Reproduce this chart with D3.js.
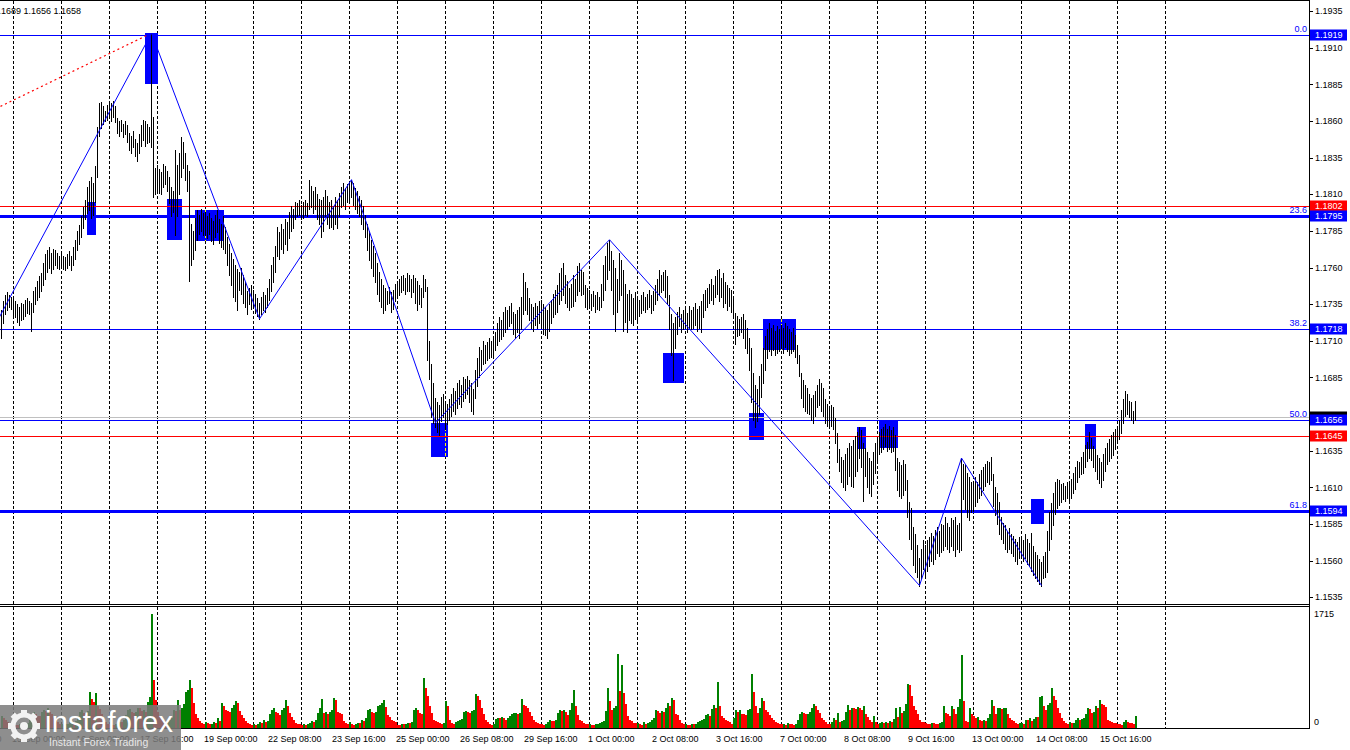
<!DOCTYPE html>
<html><head><meta charset="utf-8">
<script src="https://cdn.jsdelivr.net/npm/d3@7"></script>
<style>body{margin:0;background:#fff}svg{display:block}text{font-family:"Liberation Sans",Arial,sans-serif}</style>
</head><body><svg id="c" width="1350" height="750"></svg>
<script>
// EURUSD H1 — prices stored as pips above 1.1000 (price = 1.1 + v/10000)
const highs = [
731,737,741,743,741,740,
739,737,735,733,736,735,738,739,737,736,744,747,751,754,756,763,769,772,774,770,773,772,770,768,
770,768,767,769,771,768,774,779,785,789,795,801,806,815,819,822,818,829,856,872,873,870,867,871,
874,872,874,870,862,860,861,858,860,857,852,850,853,848,845,851,857,861,860,858,856,920,863,828,
830,827,825,831,829,826,822,815,812,840,830,838,849,846,838,830,826,790,785,794,799,796,800,797,
798,795,797,794,792,796,799,793,790,795,788,781,776,770,766,762,759,757,760,755,750,744,746,748,
745,742,739,736,740,743,741,746,752,762,767,775,788,784,790,786,793,791,798,802,800,805,804,806,
803,805,806,804,820,816,812,815,810,807,806,808,813,809,805,806,802,808,806,811,815,818,814,817,
818,820,818,814,812,809,806,802,796,790,785,779,775,770,763,757,752,748,746,744,747,743,745,749,
750,752,754,755,753,756,755,752,755,753,751,748,746,755,752,747,710,694,681,671,668,666,672,674,
668,667,670,674,678,676,681,683,680,685,684,686,683,681,677,690,698,706,704,710,707,709,712,710,
712,716,722,726,724,730,733,731,734,736,730,728,731,733,740,756,750,746,739,735,733,736,734,737,
738,735,733,731,735,738,742,745,748,756,760,763,755,751,746,749,755,752,761,763,758,757,748,746,
745,742,744,741,743,740,749,762,768,777,779,771,765,760,752,770,765,758,749,742,745,742,739,743,
740,738,741,743,740,742,745,741,744,748,752,758,755,757,758,754,741,728,722,726,730,733,728,731,
733,729,734,731,733,736,732,734,737,742,745,746,749,752,748,754,758,759,753,756,750,748,746,745,
740,729,727,725,726,728,724,719,712,705,688,680,677,686,694,705,713,718,722,719,721,717,720,718,
721,719,722,720,718,716,719,714,707,700,688,683,680,678,674,671,673,676,680,684,681,678,670,667,
664,666,665,657,647,636,631,629,633,637,640,638,642,645,648,651,649,640,637,634,630,628,634,640,
643,648,650,651,653,650,652,649,651,646,630,627,625,629,626,615,600,596,583,578,571,562,568,574,
571,574,576,579,577,581,583,580,585,584,590,586,583,589,588,590,584,586,630,626,625,620,617,614,
612,617,614,619,622,624,626,628,627,631,619,610,606,600,590,586,584,580,582,578,577,575,573,576,
577,574,578,575,572,579,570,566,564,561,559,563,566,580,593,599,606,614,616,615,612,613,611,614,
613,616,620,624,628,627,631,634,639,641,648,644,638,636,632,630,627,633,637,640,643,646,648,650,
652,656,663,670,676,674,669,668,662,669];
const lows = [
712,722,728,731,733,732,
727,726,723,721,724,725,727,729,728,717,730,735,738,740,744,748,752,757,760,756,759,762,760,759,
760,759,758,760,762,758,762,766,772,776,781,787,793,797,799,794,796,805,822,850,855,858,860,861,
862,860,863,859,852,850,853,849,851,846,840,838,842,836,833,838,843,847,843,845,846,842,808,810,
812,811,810,815,817,812,804,795,798,782,795,810,822,828,820,812,751,762,766,772,779,783,785,782,
782,780,783,778,776,781,784,777,774,773,770,762,755,748,740,737,731,745,742,736,733,728,735,732,
733,729,727,725,728,731,730,733,738,744,750,757,768,766,773,770,776,772,780,785,787,793,795,796,
793,794,796,795,800,801,797,800,793,790,781,785,795,790,787,788,786,790,787,795,801,803,800,805,
806,808,803,800,797,795,790,786,781,772,765,760,754,750,742,737,733,729,731,735,736,730,732,737,
740,741,743,745,742,744,744,740,743,736,731,735,733,740,744,697,684,658,654,651,648,646,655,658,
650,653,656,659,662,660,664,667,665,669,671,674,668,662,660,671,679,685,690,694,695,697,698,699,
700,704,707,710,711,713,716,718,720,722,715,712,716,712,718,728,731,728,724,719,717,721,719,722,
721,715,714,712,717,722,726,728,730,735,738,741,736,733,731,733,734,737,741,744,741,742,733,732,
733,731,734,730,732,731,733,738,745,752,758,745,728,717,730,738,741,717,723,716,724,722,721,725,
724,727,729,731,730,732,733,729,731,735,738,741,743,745,740,735,718,700,683,705,715,720,716,718,
721,716,719,718,719,721,717,719,716,726,731,733,736,738,735,740,742,737,740,733,736,731,734,730,
726,708,713,714,716,712,705,702,690,668,656,651,655,660,672,681,690,698,703,700,704,700,702,703,
705,702,706,703,700,702,703,699,695,686,671,665,662,661,660,656,654,659,665,666,662,659,654,652,
651,652,650,640,627,621,614,610,608,612,618,611,610,618,621,630,624,601,618,610,606,604,612,620,
628,633,634,636,638,635,636,634,635,622,608,604,603,605,608,590,575,568,557,552,549,543,548,554,
550,553,556,560,558,561,565,563,566,567,570,568,566,570,567,563,568,566,567,602,595,590,588,593,
594,597,600,603,605,608,611,614,612,615,597,591,585,578,575,572,568,566,568,565,563,560,558,562,
562,560,562,558,556,553,550,548,546,544,543,548,549,552,567,575,584,592,596,598,600,602,601,603,
601,603,606,609,614,617,619,620,624,628,630,629,624,621,616,613,610,615,621,626,628,630,632,636,
640,643,647,654,659,660,658,656,654,656];
const volumes = [
180,150,110,90,70,50,
60,45,40,50,70,85,60,75,120,210,240,200,180,170,230,260,250,290,240,200,150,110,80,50,
55,40,50,60,80,90,70,100,180,230,260,220,210,250,540,430,380,520,330,280,200,150,90,60,
60,45,40,55,70,90,80,110,190,260,280,240,220,230,300,290,250,270,240,380,460,1715,725,420,
240,180,130,100,80,90,110,150,270,250,420,270,300,350,540,570,715,600,370,200,140,95,70,55,
90,70,55,60,80,70,140,95,370,330,260,245,230,300,345,405,370,245,190,140,100,65,55,45,
50,45,60,85,70,110,90,100,200,265,290,230,215,190,270,300,420,320,215,160,110,75,60,50,
45,55,40,60,65,95,85,110,218,300,430,225,240,210,235,260,440,420,240,215,210,95,70,55,
80,60,45,55,70,65,110,95,140,270,285,240,215,230,330,345,370,420,310,190,160,115,95,80,
45,40,55,50,60,70,65,90,270,294,260,218,200,750,590,470,320,220,120,100,80,70,60,75,
395,330,110,70,60,80,95,120,130,240,245,230,220,250,270,510,480,420,300,200,120,80,60,45,
60,130,150,140,160,150,120,140,180,210,215,225,200,215,436,340,320,300,240,170,110,80,65,50,
50,45,55,90,110,100,95,120,220,265,250,270,240,195,265,370,573,320,195,120,95,70,60,50,
60,45,40,50,55,70,90,95,243,590,395,269,300,320,1105,550,950,520,350,170,117,92,70,66,
70,60,45,80,60,75,90,110,150,270,245,220,250,240,300,370,320,450,420,200,190,110,70,50,
60,45,40,55,50,60,80,95,110,130,190,200,170,280,345,300,680,320,170,140,110,95,80,60,
150,270,240,260,210,205,190,270,280,810,530,330,218,300,440,400,270,240,190,140,115,90,70,60,
55,60,45,70,55,50,40,60,110,210,240,225,200,210,230,300,360,320,270,215,150,120,90,60,
60,90,140,110,220,90,100,120,230,345,260,300,290,285,310,295,270,320,200,160,110,90,180,90,
60,70,80,65,90,75,100,85,130,294,160,310,220,250,350,650,640,480,320,270,200,120,90,80,
70,60,55,70,65,55,50,70,90,325,220,200,180,325,280,200,310,430,1100,400,100,90,290,200,
180,140,160,120,100,110,95,140,200,420,320,200,290,300,280,290,300,210,150,120,95,70,60,65,
70,60,120,110,140,100,130,160,160,460,480,330,270,345,370,600,480,420,300,218,150,100,70,60,
90,70,75,120,140,110,130,150,200,294,280,218,230,319,300,420,350,345,310,110,95,80,70,65,
60,50,45,90,110,80,70,65,60,170];

const timeLabels = ["12 Sep 16:00","15 Sep 00:00","16 Sep 08:00","17 Sep 16:00","19 Sep 00:00","22 Sep 08:00","23 Sep 16:00","25 Sep 00:00","26 Sep 08:00","29 Sep 16:00","1 Oct 00:00","2 Oct 08:00","3 Oct 16:00","7 Oct 00:00","8 Oct 08:00","9 Oct 16:00","13 Oct 00:00","14 Oct 08:00","15 Oct 16:00"];
const priceTicks = [1.1935,1.1910,1.1885,1.1860,1.1835,1.1810,1.1785,1.1760,1.1735,1.1710,1.1685,1.1660,1.1635,1.1610,1.1585,1.1560,1.1535];
const fibNames = ["0.0","23.6","38.2","50.0","61.8"];
const fibPrices = [1.1919,1.1795,1.1718,1.1656,1.1594];
const fibWidths = [1,3,1,1,3];
const redLevels = [1.1802,1.1645];
const bidPrice = 1.1658;
const zigBars = [-7,75,129,175,217,304,459,480,520];
const zigPips = [711,920,725,820,654,779,543,630,543];
const trendBars = [-0.5,73.5];
const trendPips = [870,919];
const boxStart = [72,43,83,97,215,331,374,381,428,439,515,542];
const boxEnd   = [78,47,90,111,223,341,381,397,432,448,521,547];
const boxTop   = [1.1920,1.1805,1.1807,1.1799,1.1654,1.1702,1.1661,1.1725,1.1651,1.1655,1.1602,1.1653];
const boxBot   = [1.1885,1.1782,1.1779,1.1778,1.1631,1.1681,1.1642,1.1704,1.1636,1.1637,1.1585,1.1636];
const volMax = 1715;

const P = v => 1.1 + v / 10000;
const svg = d3.select("#c");
const x = d3.scaleLinear().domain([0, 654]).range([1, 1309]);
const y = d3.scaleLinear().domain([1.15304, 1.19426]).range([604, 0]);
const yv = d3.scaleLinear().domain([0, volMax]).range([727.5, 614]);
const px = i => Math.round(x(i)) + 0.5;
const py = p => Math.round(y(p)) + 0.5;
const R = 1309;

svg.append("rect").attr("width", 1350).attr("height", 750).attr("fill", "#fff");
svg.append("defs").append("clipPath").attr("id", "mainClip").append("rect").attr("x", 0).attr("y", 0).attr("width", R).attr("height", 604);

const dayStarts = d3.range(0, 25).map(k => 6 + 24 * k);
// grid
const grid = svg.append("g").attr("stroke", "#000").attr("stroke-dasharray", "3,2").attr("shape-rendering", "crispEdges");
grid.selectAll("line.a").data(dayStarts).join("line").attr("class", "a")
  .attr("x1", px).attr("x2", px).attr("y1", 1).attr("y2", 604);
grid.selectAll("line.b").data(dayStarts).join("line").attr("class", "b")
  .attr("x1", px).attr("x2", px).attr("y1", 607).attr("y2", 728);

const main = svg.append("g").attr("clip-path", "url(#mainClip)");

// boxes
const boxes = boxStart.map((s, k) => ({ s, e: boxEnd[k], t: boxTop[k], b: boxBot[k] }));
main.append("g").selectAll("rect").data(boxes).join("rect")
  .attr("x", d => Math.round(x(d.s))).attr("y", d => Math.round(y(d.t)))
  .attr("width", d => Math.round(x(d.e)) - Math.round(x(d.s)) + 1)
  .attr("height", d => Math.round(y(d.b)) - Math.round(y(d.t)))
  .attr("fill", "#0000ff");
const inBox = [];
boxes.forEach(b => dayStarts.filter(d => d > b.s && d < b.e).forEach(d => inBox.push({ d, b })));
main.append("g").selectAll("line").data(inBox).join("line")
  .attr("x1", o => px(o.d)).attr("x2", o => px(o.d))
  .attr("y1", o => Math.round(y(o.b.t))).attr("y2", o => Math.round(y(o.b.b)))
  .attr("stroke", "#ffff00").attr("stroke-dasharray", "3,2").attr("shape-rendering", "crispEdges");

// horizontal levels
main.append("line").attr("x1", 0).attr("x2", R).attr("y1", py(bidPrice)).attr("y2", py(bidPrice)).attr("stroke", "#c0c0c0");
main.append("g").selectAll("line").data(redLevels).join("line")
  .attr("x1", 0).attr("x2", R).attr("y1", py).attr("y2", py).attr("stroke", "#ff0000").attr("shape-rendering", "crispEdges");
main.append("g").selectAll("line").data(fibPrices).join("line")
  .attr("x1", 0).attr("x2", R)
  .attr("y1", (p, k) => fibWidths[k] === 3 ? Math.round(y(p)) + 0.5 : py(p))
  .attr("y2", (p, k) => fibWidths[k] === 3 ? Math.round(y(p)) + 0.5 : py(p))
  .attr("stroke", "#0000ff").attr("stroke-width", (p, k) => fibWidths[k]).attr("shape-rendering", "crispEdges");
svg.append("g").selectAll("text").data(fibPrices).join("text")
  .attr("x", 1307).attr("y", p => Math.round(y(p)) - 3).attr("text-anchor", "end")
  .attr("font-size", 9).attr("fill", "#0000ff").text((p, k) => fibNames[k]);

// price bars
main.append("g").attr("stroke", "#000").attr("shape-rendering", "crispEdges")
  .selectAll("line").data(d3.range(highs.length)).join("line")
  .attr("x1", px).attr("x2", px)
  .attr("y1", i => Math.round(y(P(highs[i])))).attr("y2", i => Math.round(y(P(lows[i]))) + 1);

// zigzag
const zz = zigBars.map((b, k) => ({ b, p: P(zigPips[k]) }));
main.append("path").datum(zz)
  .attr("d", d3.line().x(d => x(d.b) + 0.5).y(d => y(d.p)))
  .attr("fill", "none").attr("stroke", "#0000ff").attr("stroke-width", 1);
// red dotted trend
const tr = trendBars.map((b, k) => ({ b, p: P(trendPips[k]) }));
main.append("path").datum(tr)
  .attr("d", d3.line().x(d => x(d.b) + 0.5).y(d => y(d.p)))
  .attr("fill", "none").attr("stroke", "#ff0000").attr("stroke-dasharray", "2,3").attr("stroke-width", 1.2);

// volumes
svg.append("g").attr("shape-rendering", "crispEdges").selectAll("rect").data(volumes).join("rect")
  .attr("x", (v, i) => Math.round(x(i))).attr("width", 2)
  .attr("y", v => yv(v)).attr("height", v => 727.5 - yv(v))
  .attr("fill", (v, i) => (i === 0 || v > volumes[i - 1]) ? "#008000" : "#ff0000");

// frame
const fr = svg.append("g").attr("stroke", "#000").attr("shape-rendering", "crispEdges");
fr.append("line").attr("x1", 0).attr("x2", R + 0.5).attr("y1", 0.5).attr("y2", 0.5);
fr.append("line").attr("x1", 0).attr("x2", R + 0.5).attr("y1", 604.5).attr("y2", 604.5);
fr.append("line").attr("x1", 0).attr("x2", R + 0.5).attr("y1", 606.5).attr("y2", 606.5);
fr.append("line").attr("x1", 0).attr("x2", R + 0.5).attr("y1", 728.5).attr("y2", 728.5);
fr.append("line").attr("x1", R + 0.5).attr("x2", R + 0.5).attr("y1", 0).attr("y2", 729);

// highlighted label set (used to hide covered tick texts)
const tags = [{ p: bidPrice, c: "#000", t: false }]
  .concat(redLevels.map(p => ({ p, c: "#ff0000", t: true })))
  .concat(fibPrices.map(p => ({ p, c: "#0000ff", t: true })));
const covered = p => tags.some(d => Math.abs(y(d.p) - y(p)) < 10);

// price axis
const ax = svg.append("g");
ax.selectAll("line").data(priceTicks).join("line")
  .attr("x1", R).attr("x2", R + 4).attr("y1", py).attr("y2", py).attr("stroke", "#000").attr("shape-rendering", "crispEdges");
ax.selectAll("text").data(priceTicks.filter(p => !covered(p))).join("text")
  .attr("x", 1315).attr("y", p => y(p)).attr("dy", "0.35em").attr("font-size", 9).attr("fill", "#000")
  .text(p => p.toFixed(4));
const tg = svg.append("g").selectAll("g").data(tags).join("g");
tg.append("rect").attr("x", 1310).attr("y", d => Math.round(y(d.p)) - 5.5).attr("width", 37).attr("height", 11).attr("fill", d => d.c);
tg.filter(d => d.t).append("text").attr("x", 1315).attr("y", d => Math.round(y(d.p))).attr("dy", "0.35em")
  .attr("font-size", 9).attr("fill", "#fff").text(d => d.p.toFixed(4));

// volume axis
svg.append("text").attr("x", 1314).attr("y", yv(volMax)).attr("dy", "0.35em").attr("font-size", 9).text(String(volMax));
svg.append("text").attr("x", 1314).attr("y", 722).attr("dy", "0.35em").attr("font-size", 9).text("0");

// time labels
svg.append("g").selectAll("text").data(timeLabels).join("text")
  .attr("x", (t, m) => x(6 + 32 * (m - 1)) - 1).attr("y", 742)
  .attr("font-size", 9).attr("fill", "#000").text(t => t);

// top-left quote text
svg.append("text").attr("x", 81).attr("y", 14).attr("text-anchor", "end").attr("font-size", 9).text("1.1669 1.1689 1.1656 1.1658");

// logo
const lg = svg.append("g");
lg.append("rect").attr("x", 0).attr("y", 705).attr("width", 181).attr("height", 45).attr("fill", "#7a7a7a").attr("opacity", 0.85);
const gear = lg.append("g").attr("transform", "translate(24,726)");
d3.range(8).forEach(k => gear.append("rect").attr("x", -3).attr("y", -16).attr("width", 6).attr("height", 7)
  .attr("fill", "#f2f2f2").attr("transform", `rotate(${k * 45})`));
gear.append("circle").attr("r", 11).attr("fill", "none").attr("stroke", "#f2f2f2").attr("stroke-width", 5);
gear.append("circle").attr("r", 4).attr("fill", "#f2f2f2");
lg.append("text").attr("x", 45).attr("y", 732).attr("font-size", 29).attr("fill", "#ffffff")
  .attr("font-family", "'Open Sans', sans-serif").attr("textLength", 128).text("instaforex");
lg.append("text").attr("x", 49).attr("y", 746).attr("font-size", 10.5).attr("fill", "#e8e8e8")
  .attr("font-family", "'Open Sans', sans-serif").text("Instant Forex Trading");
</script>
</body></html>
